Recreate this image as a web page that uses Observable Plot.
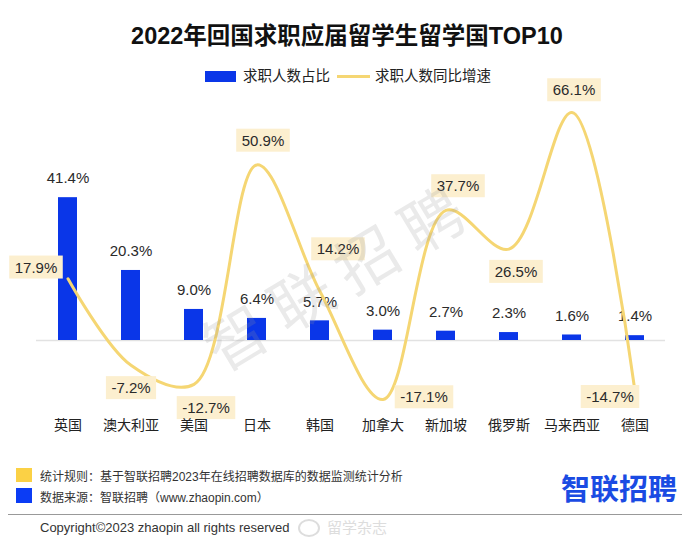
<!DOCTYPE html>
<html><head><meta charset="utf-8">
<script src="https://cdn.jsdelivr.net/npm/d3@7"></script>
<script src="https://cdn.jsdelivr.net/npm/@observablehq/plot@0.6"></script>
<style>
body{margin:0;background:#fff;width:694px;height:547px;position:relative;overflow:hidden;font-family:"Liberation Sans","Noto Sans CJK SC",sans-serif;color:#222}
.abs{position:absolute;white-space:nowrap}
#title{left:0;width:694px;top:21px;text-align:center;font-size:23.5px;font-weight:bold;line-height:30px;color:#111}
.lg{font-size:14.5px;line-height:20px;top:66px;color:#222}
.ft{font-size:12px;line-height:16px;color:#333}
#wm{left:338px;top:272px;transform:translate(-50%,-50%) rotate(-31deg);font-size:62px;font-weight:normal;letter-spacing:14px;color:rgba(150,150,150,0.2);font-family:"Noto Sans CJK SC",sans-serif}
</style></head><body>
<div id="title" class="abs">2022年回国求职应届留学生留学国TOP10</div>
<div class="abs" style="left:205px;top:71px;width:31px;height:11px;background:#0a36e8"></div>
<div class="abs lg" style="left:243px">求职人数占比</div>
<div class="abs" style="left:337px;top:75px;width:33px;height:3px;background:#f5d673"></div>
<div class="abs lg" style="left:375px">求职人数同比增速</div>
<div id="chart" class="abs" style="left:0;top:95px"></div>
<div id="wm" class="abs">智联招聘</div>
<div class="abs" style="left:16px;top:468px;width:16px;height:14px;background:#fbd145"></div>
<div class="abs" style="left:16px;top:488px;width:16px;height:15px;background:#0b3cf5"></div>
<div class="abs ft" style="left:40px;top:469px">统计规则：基于智联招聘2023年在线招聘数据库的数据监测统计分析</div>
<div class="abs ft" style="left:40px;top:490px">数据来源：智联招聘（www.zhaopin.com）</div>
<div class="abs" style="left:561px;top:469px;font-size:29px;line-height:36px;font-weight:bold;color:#1a4be3;font-family:'Noto Sans CJK SC',sans-serif">智联招聘</div>
<div class="abs" style="left:8px;top:514px;width:674px;height:1px;background:#999"></div>
<div class="abs" style="left:40px;top:520px;font-size:13px;line-height:16px;color:#333">Copyright©2023 zhaopin all rights reserved</div>
<div class="abs" style="left:298px;top:519px;width:18px;height:14px;border:2px solid #ddd;border-radius:50%"></div>
<div class="abs" style="left:327px;top:518px;font-size:15px;line-height:20px;color:#ddd">留学杂志</div>
<script>
const countries = ["英国","澳大利亚","美国","日本","韩国","加拿大","新加坡","俄罗斯","马来西亚","德国"];
const shareValues = [41.4, 20.3, 9.0, 6.4, 5.7, 3.0, 2.7, 2.3, 1.6, 1.4];
const growthValues = [17.9, -7.2, -12.7, 50.9, 14.2, -17.1, 37.7, 26.5, 66.1, -14.7];

const data = countries.map((c, i) => ({country: c, share: shareValues[i], growth: growthValues[i]}));
// label placement (annotation offsets in px)
const labelOffsets = [[-32,-11],[0,23],[12,24],[6,-24],[18,-42],[41,-2],[12,-24],[7,23],[2,-22],[-25,6]];
const fmt = v => v.toFixed(1) + "%";
const LABEL_FILL = "#2a2a2b";

const growthLabels = data.map((d, i) => Plot.text([d], {
  x: "country", y: "growth", text: d => fmt(d.growth),
  dx: labelOffsets[i][0], dy: labelOffsets[i][1],
  fontSize: 15, fill: LABEL_FILL
}));

const chart = Plot.plot({
  width: 694, height: 350,
  marginLeft: 36, marginRight: 29, marginTop: 3.5, marginBottom: 36,
  style: {fontFamily: '"Liberation Sans","Noto Sans CJK SC",sans-serif', color: "#222", background: "transparent", overflow: "visible"},
  x: {type: "band", domain: countries, paddingInner: 0.7, paddingOuter: 0.34, label: null},
  y: {domain: [-20, 70], axis: null},
  marks: [
    Plot.ruleY([0], {stroke: "#e2e2e2", strokeWidth: 1.5}),
    Plot.barY(data, {x: "country", y: "share", fill: "#0a36e8"}),
    Plot.text(data, {x: "country", y: "share", text: d => fmt(d.share), dy: -19, fontSize: 15, fill: "#2a2a2a"}),
    Plot.line(data, {x: "country", y: "growth", curve: "catmull-rom", stroke: "#f5d673", strokeWidth: 3}),
    ...growthLabels,
    Plot.axisX({tickSize: 0, tickPadding: 11, fontSize: 14, label: null})
  ]
});
document.getElementById("chart").appendChild(chart);

d3.select(chart).selectAll("text").each(function() {
  const g = this.closest("g");
  const fill = (g && g.getAttribute("fill")) || this.getAttribute("fill");
  if (fill !== LABEL_FILL) return;
  const b = this.getBBox();
  const r = document.createElementNS("http://www.w3.org/2000/svg", "rect");
  r.setAttribute("x", b.x - 5.5);
  r.setAttribute("y", b.y + b.height / 2 - 11.5);
  r.setAttribute("width", b.width + 11);
  r.setAttribute("height", 23);
  r.setAttribute("fill", "#fcefcf");
  const t = this.getAttribute("transform");
  if (t) r.setAttribute("transform", t);
  this.parentNode.insertBefore(r, this);
});
</script>
</body></html>
